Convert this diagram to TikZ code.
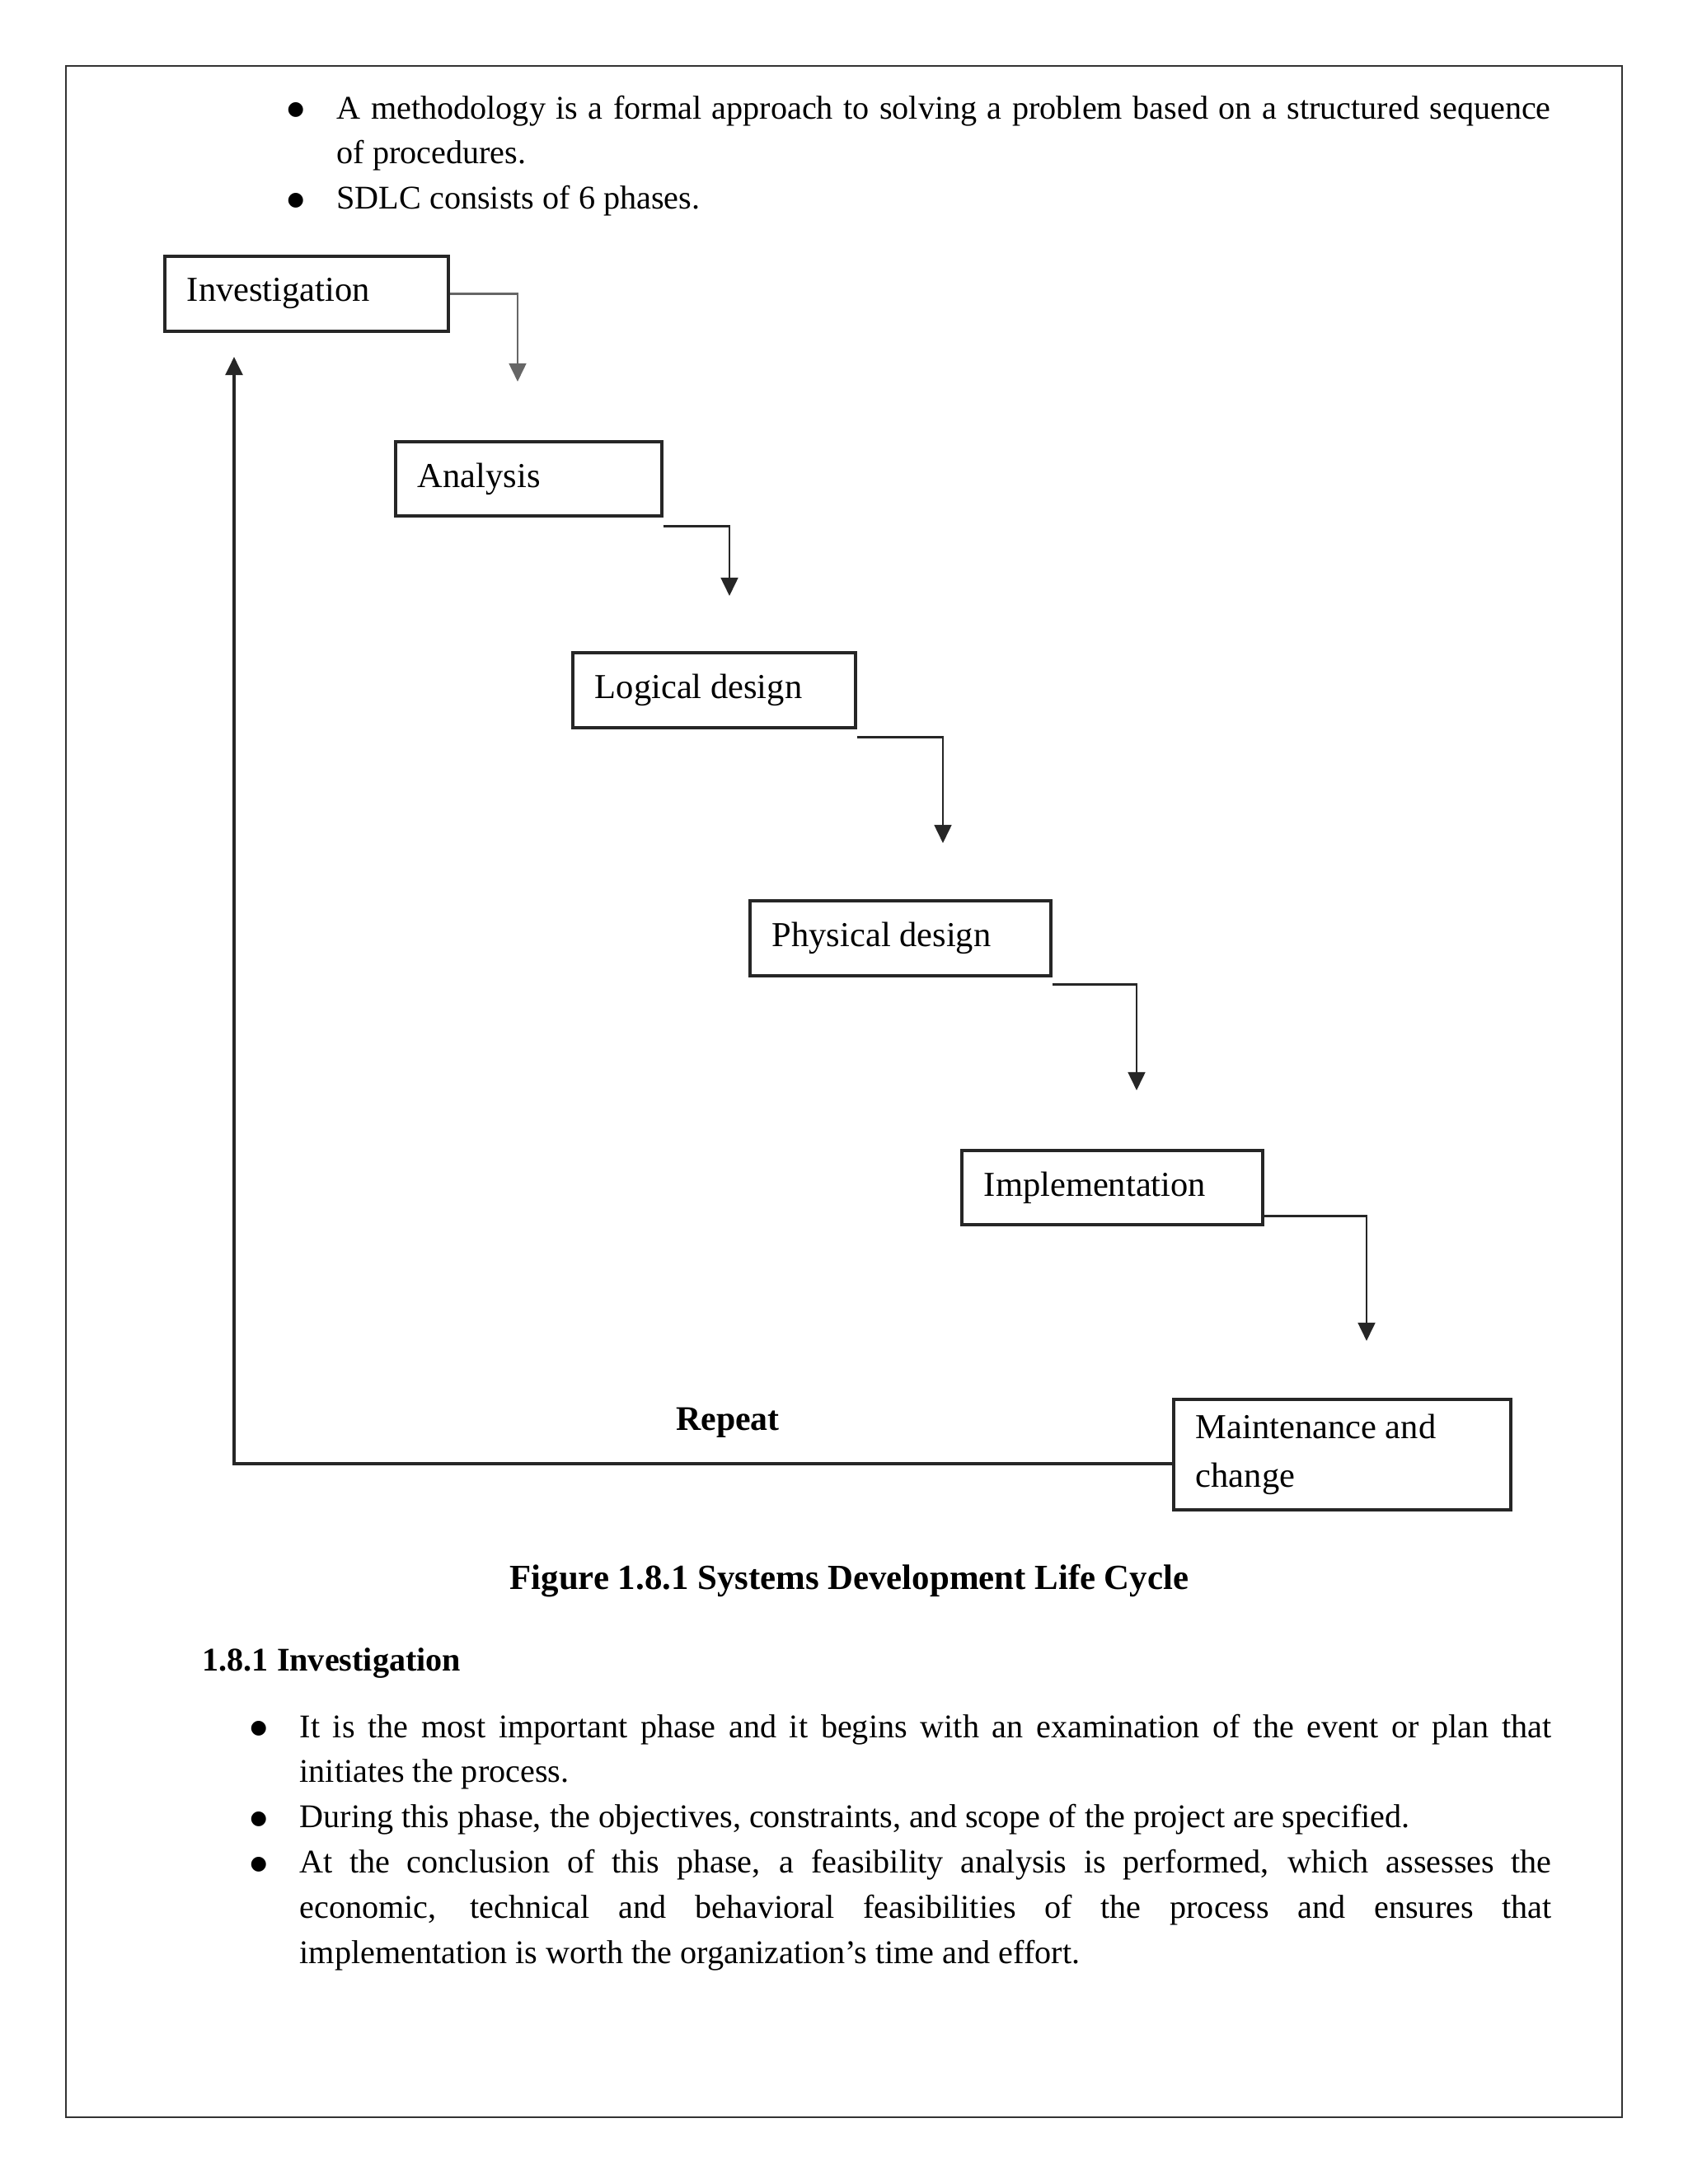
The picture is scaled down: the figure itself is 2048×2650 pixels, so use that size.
\documentclass[tikz,border=0pt]{standalone}
\usepackage{fontspec}
\setmainfont{Liberation Serif}
\newfontfamily\bulfont{DejaVu Sans}
\usetikzlibrary{arrows.meta,calc}
\newcommand{\bigbul}{\makebox[17.93pt][l]{\raisebox{1.3pt}{\bulfont\fontsize{7}{8}\selectfont ●}}}
\begin{document}
\begin{tikzpicture}[x=0.29883pt,y=-0.29883pt,
  phase/.style={draw=black!85, line width=1.1pt, anchor=north west, inner xsep=8.07pt, inner ysep=0pt, align=flush left, font=\fontsize{12.7}{17.6}\selectfont},
  conn/.style={draw=black!85, line width=0.8pt, -{Triangle[length=6.6pt,width=6.2pt]}},
  para/.style={inner sep=0pt, anchor=base west, align=justify, font=\fontsize{12}{16.4}\selectfont},
  boldlabel/.style={inner sep=0pt, font=\bfseries\fontsize{#1}{15}\selectfont}]
\fill[white] (0,0) rectangle (2048,2650);
\useasboundingbox (0,0) rectangle (2048,2650);
% page frame
\draw[line width=0.6pt, black!80] (80,80) rectangle (1968,2569);

% top bullets
\node[para, text width=458.11pt] (topb) at (348,144) {\hbadness=10000\tolerance=9999\hyphenpenalty=10000%
\hangindent=17.93pt\hangafter=1\bigbul A methodology is a formal approach to solving a problem based on a structured sequence\linebreak of procedures.\par
\hangindent=17.93pt\hangafter=1\bigbul SDLC consists of 6 phases.\par};

% phases
\node[phase, text width=86.66pt, minimum height=27.19pt] (inv) at (198,309) {Investigation};
\node[phase, text width=80.38pt, minimum height=26.89pt] (ana) at (478,534) {Analysis};
\node[phase, text width=86.36pt, minimum height=27.19pt] (log) at (693,790) {Logical design};
\node[phase, text width=92.94pt, minimum height=27.19pt] (phys) at (908,1091) {Physical design};
\node[phase, text width=92.94pt, minimum height=26.89pt] (impl) at (1165,1394) {Implementation};
\node[phase, text width=106.08pt, minimum height=40.04pt] (maint) at (1422,1696) {Maintenance and\\change};

% connectors
\coordinate (t1) at (628,463);
\coordinate (t2) at (885,723);
\coordinate (t3) at (1144,1023);
\coordinate (t4) at (1379,1323);
\coordinate (t5) at (1658,1627);
\coordinate (t6) at (284,433);
\draw[conn, draw=black!60] (inv.east) -| (t1);
\draw[conn] ($(ana.south east)+(0,11)$) -| (t2);
\draw[conn] ($(log.south east)+(0,10)$) -| (t3);
\draw[conn] ($(phys.south east)+(0,9)$) -| (t4);
\draw[conn] ($(impl.south east)+(0,-12)$) -| (t5);
\draw[conn, line width=1pt] ($(maint.west)+(0,11)$) -| (t6);

\node[boldlabel=12.5, anchor=base] (rep) at (883,1735) {Repeat};
\node[boldlabel=12.8, anchor=base west] (cap) at (618,1928) {Figure 1.8.1 Systems Development Life Cycle};
\node[boldlabel=12, anchor=base west] (h181) at (245,2027) {1.8.1 Investigation};

% bottom bullets
\node[para, text width=471.85pt] (botb) at (303,2108) {\hbadness=10000\tolerance=9999\hyphenpenalty=10000%
\hangindent=17.93pt\hangafter=1\bigbul It is the most important phase and it begins with an examination of the event or plan that\linebreak initiates the process.\par
\hangindent=17.93pt\hangafter=1\bigbul During this phase, the objectives, constraints, and scope of the project are specified.\par
\hangindent=17.93pt\hangafter=1\bigbul At the conclusion of this phase, a feasibility analysis is performed, which assesses the\linebreak economic, technical and behavioral feasibilities of the process and ensures that\linebreak implementation is worth the organization’s time and effort.\par};
\end{tikzpicture}
\end{document}
